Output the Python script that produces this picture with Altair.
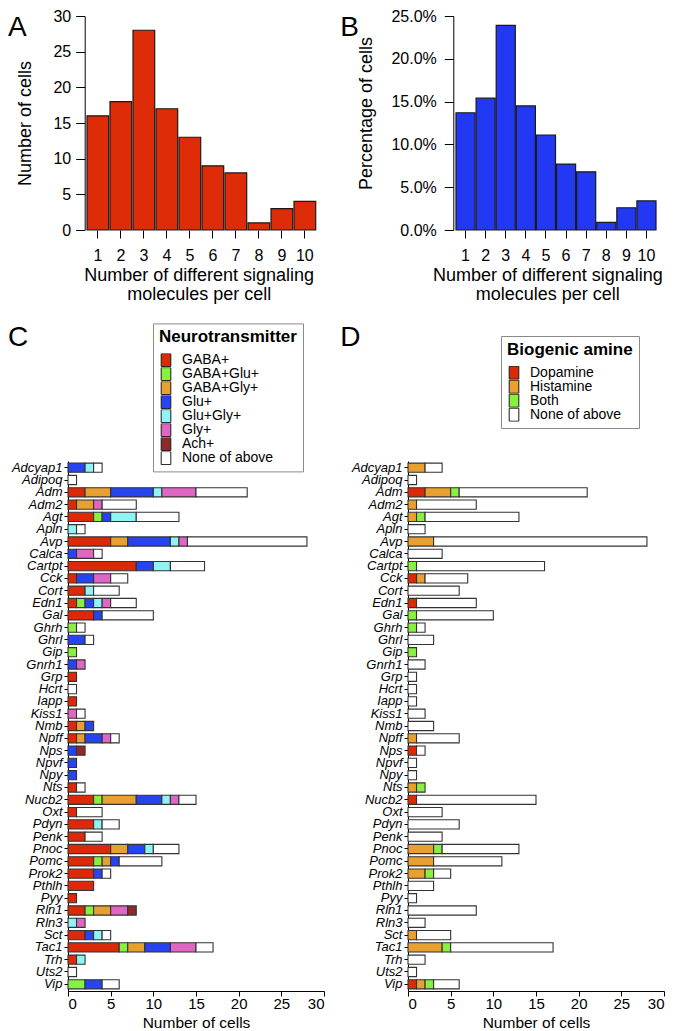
import altair as alt
import pandas as pd

FONT = "Liberation Sans"

# ---------------- data ----------------
n_molecules = [1, 2, 3, 4, 5, 6, 7, 8, 9, 10]
cells_count = [16, 18, 28, 17, 13, 9, 8, 1, 3, 4]
cells_pct = [0.137, 0.154, 0.239, 0.145, 0.111, 0.077, 0.068, 0.009, 0.026, 0.034]

genes = ["Adcyap1", "Adipoq", "Adm", "Adm2", "Agt", "Apln", "Avp", "Calca", "Cartpt", "Cck",
         "Cort", "Edn1", "Gal", "Ghrh", "Ghrl", "Gip", "Gnrh1", "Grp", "Hcrt", "Iapp",
         "Kiss1", "Nmb", "Npff", "Nps", "Npvf", "Npy", "Nts", "Nucb2", "Oxt", "Pdyn",
         "Penk", "Pnoc", "Pomc", "Prok2", "Pthlh", "Pyy", "Rln1", "Rln3", "Sct", "Tac1",
         "Trh", "Uts2", "Vip"]

nt_categories = ["GABA+", "GABA+Glu+", "GABA+Gly+", "Glu+", "Glu+Gly+", "Gly+", "Ach+", "None of above"]
nt_colors = ["#DC2A08", "#88F040", "#E8A030", "#2644F0", "#90F4F4", "#E066C4", "#8E2A2A", "#FFFFFF"]

nt_gaba = [0, 0, 2, 1, 3, 0, 5, 0, 8, 1, 2, 1, 3, 0, 0, 0, 0, 1, 0, 1, 0, 1, 1, 0, 0, 0, 1, 3, 1, 3,
           2, 5, 3, 3, 3, 1, 2, 0, 2, 6, 1, 0, 0]
nt_gaba_glu = [0, 0, 0, 0, 1, 0, 0, 0, 0, 0, 0, 1, 0, 1, 0, 1, 0, 0, 0, 0, 0, 0, 0, 0, 0, 0, 0, 1, 0, 0,
               0, 0, 1, 0, 0, 0, 1, 0, 0, 1, 0, 0, 2]
nt_gaba_gly = [0, 0, 3, 2, 0, 0, 2, 0, 0, 0, 0, 0, 0, 0, 0, 0, 0, 0, 0, 0, 0, 1, 1, 0, 0, 0, 0, 4, 0, 0,
               0, 2, 1, 0, 0, 0, 2, 0, 0, 2, 0, 0, 0]
nt_glu = [2, 0, 5, 0, 1, 0, 5, 1, 2, 2, 0, 1, 1, 0, 2, 0, 1, 0, 0, 0, 0, 1, 2, 1, 1, 1, 0, 3, 0, 0,
          0, 2, 1, 1, 0, 0, 0, 0, 1, 3, 0, 0, 2]
nt_glu_gly = [1, 0, 1, 0, 3, 1, 1, 0, 2, 0, 1, 1, 0, 0, 0, 0, 0, 0, 0, 0, 0, 0, 0, 0, 0, 0, 0, 1, 0, 1,
              0, 1, 0, 0, 0, 0, 0, 1, 1, 0, 1, 0, 0]
nt_gly = [0, 0, 4, 1, 0, 0, 1, 2, 0, 2, 0, 1, 0, 0, 0, 0, 1, 0, 0, 0, 1, 0, 1, 0, 0, 0, 0, 1, 0, 0,
          0, 0, 0, 0, 0, 0, 2, 1, 0, 3, 0, 0, 0]
nt_ach = [0, 0, 0, 0, 0, 0, 0, 0, 0, 0, 0, 0, 0, 0, 0, 0, 0, 0, 0, 0, 0, 0, 0, 1, 0, 0, 0, 0, 0, 0,
          0, 0, 0, 0, 0, 0, 1, 0, 0, 0, 0, 0, 0]
nt_none = [1, 1, 6, 4, 5, 1, 14, 1, 4, 2, 3, 3, 6, 1, 1, 0, 0, 0, 1, 0, 1, 0, 1, 0, 0, 0, 1, 2, 3, 2,
           2, 3, 5, 1, 0, 0, 0, 0, 1, 2, 0, 1, 2]

ba_categories = ["Dopamine", "Histamine", "Both", "None of above"]
ba_colors = ["#DC2A08", "#E8A030", "#88F040", "#FFFFFF"]

ba_dopamine = [0, 0, 2, 0, 0, 0, 0, 0, 0, 1, 0, 1, 0, 0, 0, 0, 0, 0, 0, 0, 0, 0, 0, 1, 0, 0, 0, 1, 0, 0,
               0, 0, 0, 0, 0, 0, 0, 0, 0, 0, 0, 0, 1]
ba_histamine = [2, 0, 3, 1, 1, 0, 3, 0, 0, 1, 0, 0, 0, 0, 0, 0, 0, 0, 0, 0, 0, 0, 1, 0, 0, 0, 1, 0, 0, 0,
                0, 3, 3, 2, 0, 0, 0, 0, 1, 4, 0, 0, 1]
ba_both = [0, 0, 1, 0, 1, 0, 0, 0, 1, 0, 0, 0, 1, 1, 0, 1, 0, 0, 0, 0, 0, 0, 0, 0, 0, 0, 1, 0, 0, 0,
           0, 1, 0, 1, 0, 0, 0, 0, 0, 1, 0, 0, 1]
ba_none = [2, 1, 15, 7, 11, 2, 25, 4, 15, 5, 6, 7, 9, 1, 3, 0, 2, 1, 1, 1, 2, 3, 5, 1, 1, 1, 0, 14, 4, 6,
           4, 9, 8, 2, 3, 1, 8, 2, 4, 12, 2, 1, 3]


def long_table(series_list, cats):
    rows = []
    for k, (cat, vals) in enumerate(zip(cats, series_list)):
        for g, v in zip(genes, vals):
            if v > 0:
                rows.append({"gene": g, "category": cat, "k": k, "cells": v})
    return pd.DataFrame(rows)


df_nt = long_table([nt_gaba, nt_gaba_glu, nt_gaba_gly, nt_glu, nt_glu_gly, nt_gly, nt_ach, nt_none],
                   nt_categories)
df_ba = long_table([ba_dopamine, ba_histamine, ba_both, ba_none], ba_categories)
df_a = pd.DataFrame({"n": n_molecules, "cells": cells_count})
df_b = pd.DataFrame({"n": n_molecules, "pct": cells_pct})

# ---------------- layout ----------------
W = 256
H_TOP = 214
H_BOT = 530
STROKE = "#1a1a1a"
SYMBOL = "M-0.74,-1H0.74V1H-0.74Z"


def letter(t, dx, dy):
    return alt.TitleParams(t, anchor="start", frame="group", orient="none", fontSize=28,
                           fontWeight="normal", font=FONT, color="black", dx=dx, dy=dy,
                           offset=0, baseline="alphabetic", align="left")


top_x_title = ["Number of different signaling", "molecules per cell"]


def hist_x_axis(title_x):
    return alt.Axis(title=top_x_title, labelAngle=0, domain=False, tickSize=8, labelPadding=9,
                    labelFontSize=16, titleFontSize=18, titleFontWeight="normal", titleX=title_x,
                    titleY=50.5, titleBaseline="alphabetic", titleLineHeight=19, titleAlign="center")


chart_a = alt.Chart(df_a).mark_bar(color="#DD2C07", stroke=STROKE, strokeWidth=1.2).encode(
    x=alt.X("n:O", scale=alt.Scale(range=[16.7, 250.0], paddingInner=0.057, paddingOuter=0.1),
            axis=hist_x_axis(130.7)),
    y=alt.Y("cells:Q", scale=alt.Scale(domain=[0, 30], nice=False),
            axis=alt.Axis(title="Number of cells", values=[0, 5, 10, 15, 20, 25, 30], offset=-16.7,
                          tickSize=9, labelPadding=5, labelFontSize=16, titleFontSize=18,
                          titleFontWeight="normal", titleX=-59, titleY=H_TOP / 2,
                          titleBaseline="middle", titleAngle=270, titleAlign="center")),
).properties(width=W, height=H_TOP, title=letter("A", -60, 20))

chart_b = alt.Chart(df_b).mark_bar(color="#2238F2", stroke=STROKE, strokeWidth=1.2).encode(
    x=alt.X("n:O", scale=alt.Scale(range=[45.3, 250.7], paddingInner=0.05, paddingOuter=0.134),
            axis=hist_x_axis(139.3)),
    y=alt.Y("pct:Q", scale=alt.Scale(domain=[0, 0.25], nice=False),
            axis=alt.Axis(title="Percentage of cells", values=[0, 0.05, 0.10, 0.15, 0.20, 0.25],
                          format=".1%", offset=-45.3, tickSize=9, labelPadding=8, labelFontSize=16,
                          titleFontSize=18, titleFontWeight="normal", titleX=-86.5, titleY=97,
                          titleBaseline="middle", titleAngle=270, titleAlign="center")),
).properties(width=W, height=H_TOP, title=letter("B", -67.7, 20))


def stacked_panel(df, cats, colors, legend_title, legend_x, legend_y, letter_text, letter_dx, letter_dy):
    legend = alt.Legend(title=legend_title, orient="none", legendX=legend_x, legendY=legend_y,
                        direction="vertical", padding=6, strokeColor="#8a8a8a", fillColor="white",
                        titleFontSize=17, titleFontWeight="bold", titleFont=FONT, titleColor="black",
                        titlePadding=7, labelFontSize=14, labelFont=FONT, labelColor="black",
                        labelOffset=9, labelLimit=300, rowPadding=-2.3, clipHeight=13.4,
                        symbolType=SYMBOL, symbolSize=169, symbolStrokeColor=STROKE,
                        symbolStrokeWidth=1, symbolOpacity=1)
    return alt.Chart(df).mark_bar(stroke="#333333", strokeWidth=1.1, opacity=1).encode(
        x=alt.X("cells:Q", stack="zero", scale=alt.Scale(domain=[0, 30], nice=False),
                axis=alt.Axis(title="Number of cells", values=[0, 5, 10, 15, 20, 25, 30], tickSize=5,
                              labelPadding=0, labelFontSize=15, titleFontSize=15.5,
                              titleFontWeight="normal", titleY=36.5, titleBaseline="alphabetic")),
        y=alt.Y("gene:N", sort=genes, scale=alt.Scale(paddingInner=0.25, paddingOuter=0.17),
                axis=alt.Axis(title=None, tickSize=4, labelPadding=2, labelFontSize=13,
                              labelFontStyle="italic", labelLimit=200)),
        color=alt.Color("category:N", scale=alt.Scale(domain=cats, range=colors), legend=legend),
        order=alt.Order("k:Q", sort="ascending"),
    ).properties(width=W, height=H_BOT, title=letter(letter_text, letter_dx, letter_dy))


chart_c = stacked_panel(df_nt, nt_categories, nt_colors, "Neurotransmitter", 85, -137.6, "C", -60, -115.3)
chart_d = stacked_panel(df_ba, ba_categories, ba_colors, "Biogenic amine", 93, -125, "D", -67.7, -115.3)

chart = alt.concat(chart_a, chart_b, chart_c, chart_d, columns=2, bounds="flush", align="each",
                   spacing={"row": 231, "column": 84}).properties(padding=0).configure(
    font=FONT
).configure_view(stroke=None).configure_axis(
    labelColor="black", titleColor="black", tickColor="black", domainColor="black",
    labelFont=FONT, titleFont=FONT, grid=False, tickWidth=1, domainWidth=1
).resolve_scale(color="independent")

chart.save("out.html", embed_options={"renderer": "svg", "actions": False})
